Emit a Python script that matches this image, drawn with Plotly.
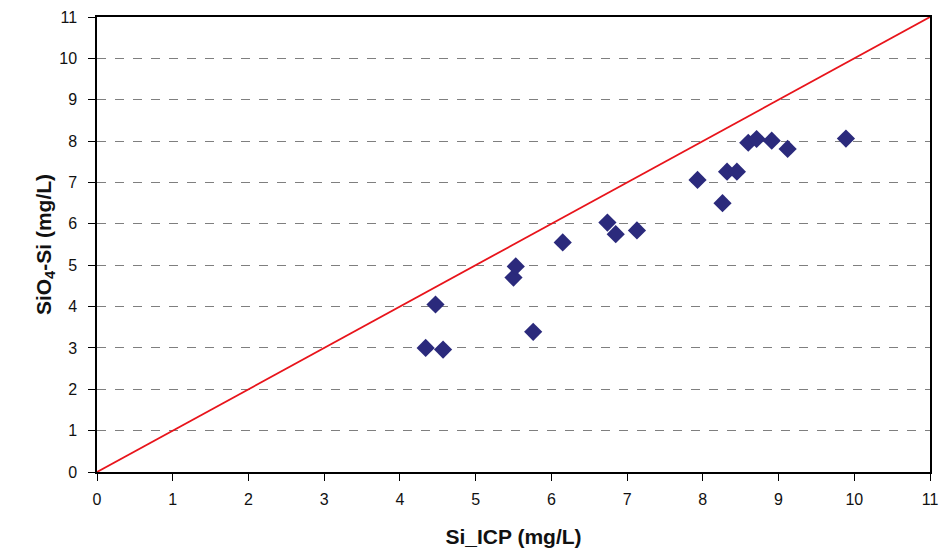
import plotly.graph_objects as go

si_icp = [4.34, 4.57, 4.47, 5.50, 5.53, 5.76, 6.15, 6.74, 6.85, 7.13,
          7.93, 8.26, 8.32, 8.45, 8.60, 8.71, 8.91, 9.12, 9.89]
sio4_si = [3.00, 2.96, 4.05, 4.70, 4.97, 3.39, 5.55, 6.03, 5.75, 5.84,
           7.06, 6.50, 7.26, 7.26, 7.96, 8.05, 8.01, 7.81, 8.06]
line_x = [0, 11]
line_y = [0, 11]
ticks = list(range(0, 12))

fig = go.Figure()
fig.add_trace(go.Scatter(x=line_x, y=line_y, mode="lines",
                         line=dict(color="#E8141B", width=1.8), showlegend=False))
fig.add_trace(go.Scatter(x=si_icp, y=sio4_si, mode="markers",
                         marker=dict(symbol="diamond", size=14, color="#2B2A7C",
                                     line=dict(width=0)), showlegend=False))

fig.update_layout(
    width=941, height=551,
    margin=dict(l=97, r=11, t=17, b=79, autoexpand=False),
    paper_bgcolor="white", plot_bgcolor="white",
    font=dict(family="Liberation Sans, Arial, sans-serif", size=16, color="#111"),
    xaxis=dict(range=[0, 11], tickvals=ticks, ticks="outside", ticklen=7,
               tickcolor="black", showline=True, linecolor="black", linewidth=1.5,
               mirror=True, showgrid=False, zeroline=False, automargin=False,
               ticklabelstandoff=5,
               title=dict(text="<b>Si_ICP (mg/L)</b>", font=dict(size=21), standoff=22)),
    yaxis=dict(range=[0, 11], tickvals=ticks, ticks="outside", ticklen=7,
               tickcolor="black", showline=True, linecolor="black", linewidth=1.5,
               mirror=True, showgrid=True, gridcolor="#7F7F7F", gridwidth=1.3,
               griddash="dash", zeroline=False, automargin=False,
               ticklabelstandoff=8,
               title=dict(text="<b>SiO<sub>4</sub>-Si (mg/L)</b>", font=dict(size=21), standoff=2)),
)

fig.write_html("out.html", config={"displayModeBar": False},
               post_script="document.body.style.margin='0';document.body.style.overflow='hidden';")
